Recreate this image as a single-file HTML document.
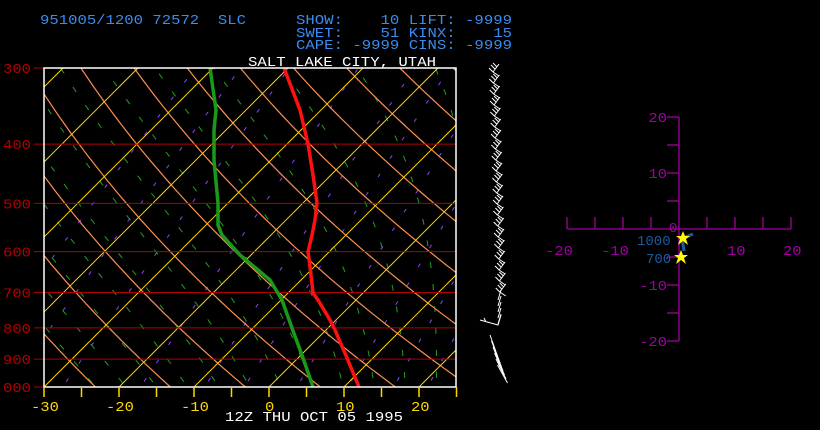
<!DOCTYPE html><html><head><style>
body{margin:0;background:#000;width:820px;height:430px;overflow:hidden}
svg{display:block}
text{font-family:"Liberation Mono",monospace;white-space:pre}
</style></head><body>
<svg id="s" width="820" height="430" xmlns="http://www.w3.org/2000/svg" xml:space="preserve">
<defs><clipPath id="c"><rect x="44" y="68" width="412" height="319"/></clipPath></defs>
<g font-size="14" fill="#3a8cf0">
<text x="40" y="24" textLength="206" lengthAdjust="spacingAndGlyphs">951005/1200 72572  SLC</text>
<text x="296" y="24" textLength="216" lengthAdjust="spacingAndGlyphs">SHOW:    10 LIFT: -9999</text>
<text x="296" y="37" textLength="216" lengthAdjust="spacingAndGlyphs">SWET:    51 KINX:    15</text>
<text x="296" y="49" textLength="216" lengthAdjust="spacingAndGlyphs">CAPE: -9999 CINS: -9999</text>
</g>
<text x="248" y="66" font-size="14" fill="#fff" textLength="188" lengthAdjust="spacingAndGlyphs">SALT LAKE CITY, UTAH</text>
<g id="grid" clip-path="url(#c)"></g>
<g id="lv"></g>
<polyline fill="none" stroke="#1a9a1a" stroke-width="3.5" points="313,387 303,358 292,328 282,300 270,280 240,255 222,235 218,225 218,203 214,160 214,130 216,110 210,68"/>
<polyline fill="none" stroke="#ff1010" stroke-width="3.5" points="359,387 347,358 335,330 330,320 318,300 313,293 311,275 309,258 308,252 312,235 315,220 317,203 313,175 308,144 300,110 284,68"/>
<rect x="44" y="68" width="412" height="319" fill="none" stroke="#fff" stroke-width="1.5"/>
<g id="xt" stroke="#ffd700" fill="#ffd700" font-size="14"></g>
<text x="225" y="421" font-size="14" fill="#fff" textLength="178" lengthAdjust="spacingAndGlyphs">12Z THU OCT 05 1995</text>
<g id="wb" stroke="#fff" stroke-width="1" fill="none"></g>
<g id="ho" stroke="#a000a0" fill="#a000a0" font-size="14"></g>
<g font-size="14" fill="#1e5aa0"><text x="637" y="245">1000</text><text x="646" y="263">700</text></g>
<polyline points="682,238 684,251" stroke="#1e5aa0" stroke-width="3" fill="none"/>
<polyline points="683,238 693,234" stroke="#1e5aa0" stroke-width="3" fill="none"/>
<g fill="#ffff00"><polygon points="0,-7 2,-2 7,-2 3,1 5,7 0,3 -5,7 -3,1 -7,-2 -2,-2" transform="translate(683,238)"/><polygon points="0,-7 2,-2 7,-2 3,1 5,7 0,3 -5,7 -3,1 -7,-2 -2,-2" transform="translate(681,257)"/></g>
</svg>
<script>
const NS="http://www.w3.org/2000/svg";
function el(p,t,a,txt){const e=document.createElementNS(NS,t);for(const k in a)e.setAttribute(k,a[k]);if(txt!==undefined)e.textContent=txt;p.appendChild(e);return e;}
const Y=p=>387-265*Math.log(1000/p);
const X=(T,p)=>44+(T+30)*7.5+(387-Y(p));
const g=document.getElementById('grid');
function curve(f,col,dash,w){let pts=[];for(let p=1050;p>=280;p-=10){const T=f(p);if(T!==null)pts.push(X(T,p).toFixed(1)+','+Y(p).toFixed(1));}
el(g,'polyline',{points:pts.join(' '),fill:'none',stroke:col,'stroke-width':w||1,'stroke-dasharray':dash||''});}
[0.1,0.2,0.4,1,2,3,5,8,12,16,20,28].forEach(w=>curve(p=>{const e=w*p/(622+w);const l=Math.log(e/6.112);return 243.5*l/(17.67-l);},'#9040ff','4,18',1));
function moist(T0){const pts={};let T=T0+273.15;for(let p=1050;p>=280;p-=1){const es=6.112*Math.exp(17.67*(T-273.15)/(T-29.65));const rs=0.622*es/(p-es);const dTdp=(287*T+2.5e6*rs)/(p*(1004+2.5e6*2.5e6*rs*0.622/(287*T*T)));pts[p]=T-273.15;T-=dTdp;}return pts;}
for(let T0=-20;T0<=40;T0+=4){const m=moist(T0);curve(p=>m[p]!==undefined?m[p]:null,'#20a020','6,16',1);}
for(let th=200;th<=500;th+=10){curve(p=>th*Math.pow(p/1000,0.286)-273.15,'#ff9050','',1.2);}
for(let T=-120;T<=40;T+=10){curve(p=>T,'#ffd700','',1);}
const lv=document.getElementById('lv');
[300,400,500,600,700,800,900,1000].forEach(p=>{const y=Y(p);
el(lv,'line',{x1:34,x2:456,y1:y,y2:y,stroke:'#b00000','stroke-width':1});
el(lv,'text',{x:3,y:y+5,fill:'#b00000','font-size':14,textLength:28,lengthAdjust:'spacingAndGlyphs'},p==1000?'000':String(p));});
const xt=document.getElementById('xt');
for(let T=-30;T<=25;T+=5){const x=44+(T+30)*7.5;el(xt,'line',{x1:x,x2:x,y1:387,y2:397,'stroke-width':1.5});
if(T%10==0){const s=String(T);el(xt,'text',{x:x-(T<0?13:(T==0?4:8)),y:411,stroke:'none',textLength:s.length*9.3,lengthAdjust:'spacingAndGlyphs'},s);}}
const wb=document.getElementById('wb');
for(let y=72;y<300;y+=11){const x0=493+(y-72)/228*7;
el(wb,'path',{d:`M${x0},${y} l${6},-8 M${x0},${y} l-4,-4 M${x0+2},${y-3} l-4,-4 M${x0+4},${y-5} l-4,-4 M${x0},${y} l6,4`});}
for(let y=300;y<330;y+=6){el(wb,'path',{d:`M${498},${y} l3,-10`});}
el(wb,'path',{d:'M480,320 l18,5 l3,-10 M484,318 l2,4'});
for(let i=0;i<6;i++){el(wb,'path',{d:`M${490+i*1.5},${335+i*6} l10,${28-i*2}`});}
const ho=document.getElementById('ho');const cx=679,cy=229,s=5.6;
el(ho,'line',{x1:cx-112,x2:cx+112,y1:cy,y2:cy,'stroke-width':1.3});
el(ho,'line',{x1:cx,x2:cx,y1:cy-112,y2:cy+112,'stroke-width':1.3});
for(let v=-20;v<=20;v+=5){if(v==0)continue;const d=v*s;
el(ho,'line',{x1:cx+d,x2:cx+d,y1:cy,y2:cy-12,'stroke-width':1.3});
el(ho,'line',{x1:cx,x2:cx-12,y1:cy-d,y2:cy-d,'stroke-width':1.3});
if(v%10==0){const t=String(v);el(ho,'text',{x:cx+d-(v<0?22:8),y:cy+26,stroke:'none',textLength:t.length*9.3,lengthAdjust:'spacingAndGlyphs'},t);
el(ho,'text',{x:cx-12-t.length*9.3,y:cy-d+5,stroke:'none',textLength:t.length*9.3,lengthAdjust:'spacingAndGlyphs'},t);}}
el(ho,'text',{x:cx-10,y:cy+3,stroke:'none'},'0');
</script>
</body></html>
